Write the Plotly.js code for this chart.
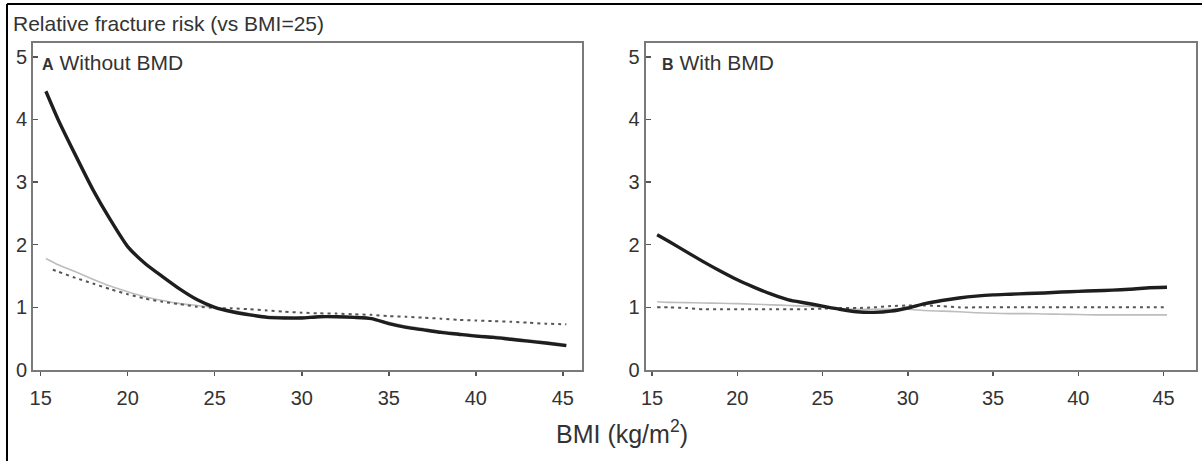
<!DOCTYPE html>
<html>
<head>
<meta charset="utf-8">
<script src="https://cdn.plot.ly/plotly-3.0.1.min.js"></script>
<style>html,body{margin:0;padding:0;background:#fff;}#chart{width:1202px;height:461px;}</style>
</head>
<body>
<div id="chart"></div>
<script>
// BMI grid (kg/m2)
const bmi = [15.3,16,17,18,19,20,21,22,23,24,25,26,27,28,29,30,31,32,33,34,35,36,37,38,39,40,41,42,43,44,45.2];
const bmiDotA = [15.7,16,17,18,19,20,21,22,23,24,25,26,27,28,29,30,31,32,33,34,35,36,37,38,39,40,41,42,43,44,45.2];

// Panel A: Without BMD
const aThick = [4.45,4.0,3.43,2.88,2.40,1.97,1.70,1.49,1.29,1.12,1.0,0.93,0.88,0.84,0.83,0.83,0.85,0.85,0.84,0.82,0.74,0.68,0.64,0.60,0.57,0.54,0.52,0.49,0.46,0.43,0.39];
const aGray  = [1.78,1.68,1.57,1.45,1.34,1.25,1.17,1.11,1.06,1.03,1.0,0.95,0.90,0.86,0.85,0.85,0.86,0.86,0.85,0.83,0.76,0.70,0.66,0.62,0.59,0.56,0.54,0.51,0.48,0.45,0.41];
const aDot   = [1.60,1.57,1.47,1.38,1.29,1.21,1.14,1.09,1.05,1.01,0.99,0.985,0.97,0.95,0.93,0.915,0.905,0.90,0.89,0.88,0.86,0.85,0.835,0.82,0.80,0.79,0.78,0.77,0.755,0.74,0.73];

// Panel B: With BMD
const bThick = [2.16,2.05,1.89,1.73,1.58,1.44,1.32,1.21,1.12,1.07,1.02,0.97,0.93,0.92,0.94,0.99,1.06,1.11,1.15,1.18,1.20,1.21,1.22,1.23,1.245,1.255,1.265,1.275,1.29,1.31,1.32];
const bGray  = [1.09,1.08,1.075,1.07,1.065,1.06,1.05,1.04,1.03,1.02,1.0,0.98,0.97,0.97,0.97,0.97,0.95,0.94,0.93,0.915,0.905,0.90,0.90,0.895,0.89,0.885,0.88,0.88,0.88,0.88,0.88];
const bDot   = [1.0,1.0,0.99,0.97,0.97,0.97,0.97,0.97,0.97,0.97,0.98,0.99,0.99,1.0,1.02,1.03,1.03,1.02,1.0,1.0,1.0,1.0,1.0,1.0,1.0,1.0,1.0,1.0,1.0,1.0,1.0];

const yTicks = [0,1,2,3,4,5];
const xTicks = [15,20,25,30,35,40,45];

const W = 1202, H = 461;
const FONT = 'Liberation Sans, Arial, sans-serif';
const TXT = '#333333';

const thick = {color:'#1e1e1e', width:3.4, shape:'spline', smoothing:0.6};
const thin  = {color:'#bdbdbd', width:1.6, shape:'spline', smoothing:0.6};
const dotted = {color:'#555555', width:2, dash:'3px,4px', shape:'spline', smoothing:0.6};

const traces = [
  {x:bmi, y:aGray, xaxis:'x', yaxis:'y', mode:'lines', line:thin},
  {x:bmiDotA, y:aDot, xaxis:'x', yaxis:'y', mode:'lines', line:dotted},
  {x:bmi, y:aThick, xaxis:'x', yaxis:'y', mode:'lines', line:thick},
  {x:bmi, y:bGray, xaxis:'x2', yaxis:'y2', mode:'lines', line:thin},
  {x:bmi, y:bDot, xaxis:'x2', yaxis:'y2', mode:'lines', line:dotted},
  {x:bmi, y:bThick, xaxis:'x2', yaxis:'y2', mode:'lines', line:thick}
];

const yTop = 1 - 43/H, yBot = 1 - 370/H;

function xAxis(domain, range, anchor){
  return {domain:domain, range:range, anchor:anchor, tickvals:xTicks, ticktext:xTicks.map(String),
    showgrid:false, zeroline:false, showline:true, mirror:true, linecolor:'#7a7a7a', linewidth:2,
    ticks:'outside', ticklen:4, tickwidth:1.5, tickcolor:'#555', ticklabelstandoff:5,
    tickfont:{family:FONT, size:20, color:TXT}, fixedrange:true};
}
function yAxis(anchor){
  return {domain:[yBot, yTop], range:[0, 5.22], anchor:anchor, tickvals:yTicks, ticktext:yTicks.map(String),
    showgrid:false, zeroline:false, showline:true, mirror:true, linecolor:'#7a7a7a', linewidth:2,
    ticks:'inside', ticklen:5, tickwidth:1.5, tickcolor:'#555', ticklabelstandoff:0,
    tickfont:{family:FONT, size:20, color:TXT}, fixedrange:true};
}

const layout = {
  width:W, height:H, margin:{l:0, r:0, t:0, b:0},
  paper_bgcolor:'#fff', plot_bgcolor:'#fff', showlegend:false,
  xaxis: xAxis([33/W, 582/W], [14.56, 46.1], 'y'),
  yaxis: yAxis('x'),
  xaxis2: xAxis([645.7/W, 1195.5/W], [14.63, 46.87], 'y2'),
  yaxis2: yAxis('x2'),
  annotations:[
    {xref:'paper', yref:'paper', x:11/W, y:1-23/H, xanchor:'left', yanchor:'middle', showarrow:false,
     text:'Relative fracture risk (vs BMI=25)', font:{family:FONT, size:21, color:TXT}},
    {xref:'paper', yref:'paper', x:40/W, y:1-62/H, xanchor:'left', yanchor:'middle', showarrow:false,
     text:'<b><span style="font-size:16px">A</span></b> Without BMD', font:{family:FONT, size:21, color:TXT}},
    {xref:'paper', yref:'paper', x:660/W, y:1-62/H, xanchor:'left', yanchor:'middle', showarrow:false,
     text:'<b><span style="font-size:16px">B</span></b> With BMD', font:{family:FONT, size:21, color:TXT}},
    {xref:'paper', yref:'paper', x:622/W, y:1-432/H, xanchor:'center', yanchor:'middle', showarrow:false,
     text:'BMI (kg/m<sup>2</sup>)', font:{family:FONT, size:25, color:TXT}}
  ],
  shapes:[
    {type:'line', xref:'paper', yref:'paper', x0:7/W, x1:1, y0:1-4/H, y1:1-4/H, line:{color:'#000', width:2}},
    {type:'line', xref:'paper', yref:'paper', x0:7/W, x1:7/W, y0:1-4/H, y1:0, line:{color:'#000', width:2}}
  ]
};

Plotly.newPlot('chart', traces, layout, {displayModeBar:false, staticPlot:true});
</script>
</body>
</html>
